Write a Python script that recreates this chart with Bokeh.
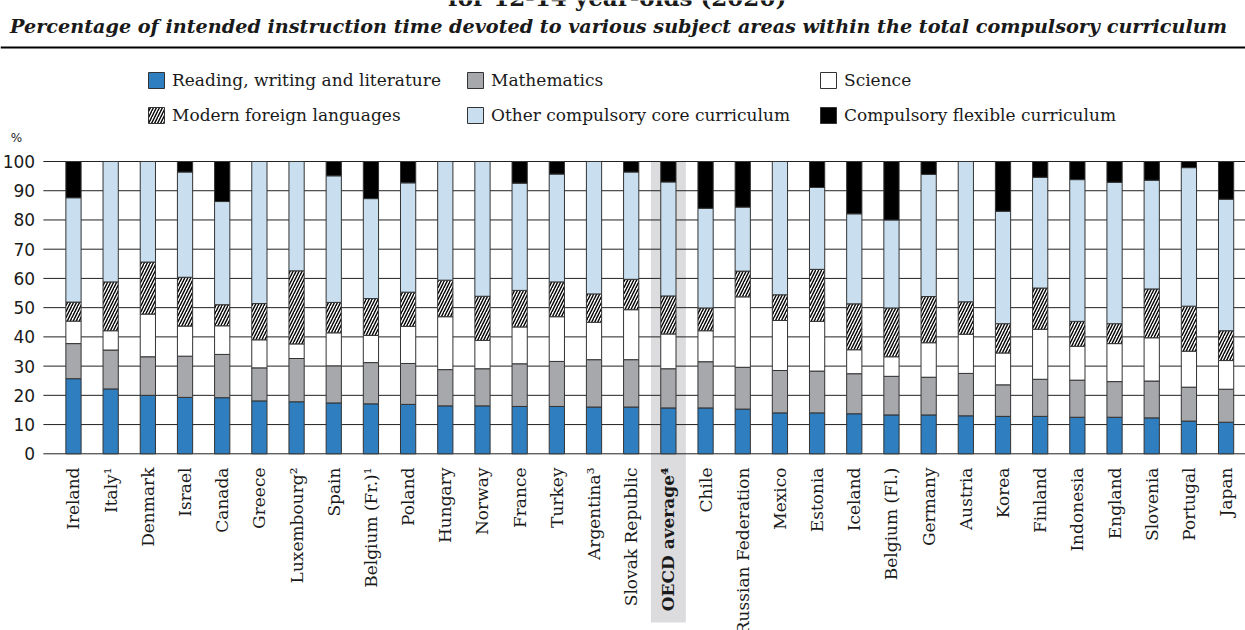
import numpy as np
from bokeh.plotting import figure
from bokeh.models import ColumnDataSource, Range1d, Legend, LegendItem, Span
from bokeh.core.properties import value
from bokeh.embed import file_html
from bokeh.resources import INLINE

# ---------------- data ----------------
countries = ["Ireland", "Italy\u00b9", "Denmark", "Israel", "Canada", "Greece",
             "Luxembourg\u00b2", "Spain", "Belgium (Fr.)\u00b9", "Poland", "Hungary",
             "Norway", "France", "Turkey", "Argentina\u00b3", "Slovak Republic",
             "OECD average\u2074", "Chile", "Russian Federation", "Mexico", "Estonia",
             "Iceland", "Belgium (Fl.)", "Germany", "Austria", "Korea", "Finland",
             "Indonesia", "England", "Slovenia", "Portugal", "Japan"]

reading = [25.7, 22.2, 20.0, 19.3, 19.2, 18.1, 17.8, 17.4, 17.1, 16.9, 16.4, 16.4,
           16.2, 16.2, 16.0, 16.0, 15.7, 15.7, 15.3, 14.0, 14.0, 13.7, 13.3, 13.3,
           13.0, 12.8, 12.8, 12.5, 12.5, 12.3, 11.2, 10.8]
mathematics = [12.0, 13.3, 13.2, 14.1, 14.8, 11.3, 14.8, 12.7, 14.1, 14.0, 12.4, 12.7,
               14.6, 15.4, 16.2, 16.2, 13.4, 15.8, 14.3, 14.5, 14.3, 13.7, 13.2, 12.9,
               14.5, 10.8, 12.7, 12.7, 12.2, 12.6, 11.6, 11.3]
science = [7.7, 6.6, 14.6, 10.3, 9.8, 9.6, 5.0, 11.3, 9.3, 12.7, 18.1, 9.7,
           12.6, 15.3, 12.8, 17.1, 11.9, 10.6, 24.1, 17.1, 17.0, 8.2, 6.7, 11.8,
           13.4, 10.9, 17.1, 11.6, 13.0, 14.8, 12.3, 9.8]
languages = [6.5, 16.7, 17.8, 16.7, 7.2, 12.4, 25.0, 10.4, 12.6, 11.7, 12.5, 15.1,
             12.5, 11.9, 9.7, 10.4, 13.0, 7.8, 8.8, 8.8, 17.8, 15.7, 16.7, 15.8,
             11.1, 10.0, 14.1, 8.5, 6.8, 16.7, 15.4, 10.2]
other_core = [35.7, 41.2, 34.4, 36.0, 35.3, 48.6, 37.4, 43.3, 34.2, 37.4, 40.6, 46.1,
              36.7, 36.9, 45.3, 36.7, 39.0, 34.1, 21.9, 45.6, 28.0, 30.8, 30.1, 41.8,
              48.0, 38.5, 37.9, 48.5, 48.4, 37.2, 47.4, 45.0]
flexible = [12.4, 0.0, 0.0, 3.6, 13.7, 0.0, 0.0, 4.9, 12.7, 7.3, 0.0, 0.0,
            7.4, 4.3, 0.0, 3.6, 7.0, 16.0, 15.6, 0.0, 8.9, 17.9, 20.0, 4.4,
            0.0, 17.0, 5.4, 6.2, 7.1, 6.4, 2.1, 12.9]

series_keys = ["reading", "mathematics", "science", "languages", "other_core", "flexible"]
series_names = ["Reading, writing and literature", "Mathematics", "Science",
                "Modern foreign languages", "Other compulsory core curriculum",
                "Compulsory flexible curriculum"]
series_colors = ["#2E7EC0", "#A7A8AC", "#FFFFFF", "#FFFFFF", "#C9DFEF", "#000000"]

y_ticks = list(range(0, 101, 10))
highlight = "OECD average\u2074"

title = "for 12-14 year-olds (2020)"
subtitle = ("Percentage of intended instruction time devoted to various subject areas "
            "within the total compulsory curriculum")

# ---------------- figure ----------------
xs = list(range(len(countries)))
styles = ["bold" if c == highlight else "normal" for c in countries]
src = ColumnDataSource(dict(x=xs, label=countries, style=styles, reading=reading,
                            mathematics=mathematics, science=science, languages=languages,
                            other_core=other_core, flexible=flexible))

x_range = Range1d(-1.963, 31.522)
y_range = Range1d(-60.45, 155.08)
p = figure(width=1245, height=630, x_range=x_range, y_range=y_range,
           x_axis_type=None, y_axis_type=None, toolbar_location=None,
           output_backend="svg", min_border=0, outline_line_color=None,
           background_fill_color="white", border_fill_color="white")

TXT = "#1a1a1a"

# highlight band behind OECD average
hi = countries.index(highlight)
p.vbar(x=[hi], width=0.94, top=[max(y_ticks)], bottom=[-57.7],
       fill_color="#DCDCDE", line_color=None)

# gridlines
p.segment(x0=[-0.81] * len(y_ticks), x1=[x_range.end + 1] * len(y_ticks),
          y0=y_ticks, y1=y_ticks, line_color="#222222", line_width=1)

# stacked bars
rs = p.vbar_stack(series_keys, x="x", width=0.41, source=src,
                  fill_color=series_colors, line_color="#333333", line_width=1)
rs[3].glyph.hatch_pattern = "/"
rs[3].glyph.hatch_color = "black"
rs[3].glyph.hatch_scale = 6
rs[3].glyph.hatch_weight = 1.4

# y tick labels
p.text(x=-1.03, y=y_ticks, text=[str(t) for t in y_ticks], text_align="right",
       text_baseline="middle", text_font=value("DejaVu Sans"),
       text_font_size=value("17px"), text_color=TXT)
p.text(x=[-1.69], y=[107.9], text=["%"], text_align="left", text_baseline="middle",
       text_font=value("DejaVu Sans"), text_font_size=value("12px"), text_color=TXT)

# category labels
p.text(x="x", y=-4.69, text="label", source=src, angle=np.pi / 2, text_align="right",
       text_baseline="middle", text_font=value("DejaVu Serif"),
       text_font_size=value("17px"), text_font_style="style", text_color=TXT)

# title (cut by the top edge, as in the original), subtitle and rule
p.text(x=[14.62], y=[156.0], text=[title], text_align="center",
       text_baseline="middle", text_font=value("DejaVu Serif"),
       text_font_size=value("23px"), text_font_style="bold", text_color=TXT)
p.text(x=[14.66], y=[146.3], text=[subtitle], text_align="center",
       text_baseline="middle", text_font=value("DejaVu Serif"),
       text_font_size=value("19.2px"), text_font_style="bold italic", text_color=TXT)
p.add_layout(Span(location=139.0, dimension="width", line_color="black", line_width=2))

# legends (three columns)
cols = [(0, 3, 146), (1, 4, 465), (2, 5, 818)]
for a, b, vx in cols:
    lg = Legend(items=[LegendItem(label=series_names[a], renderers=[rs[a]]),
                       LegendItem(label=series_names[b], renderers=[rs[b]])],
                location=(vx, 505), orientation="vertical", padding=0, margin=0,
                spacing=15, glyph_width=20, glyph_height=20, label_height=20,
                label_standoff=6, label_text_font="DejaVu Serif",
                label_text_font_size="17px", label_text_color=TXT,
                border_line_color=None, background_fill_alpha=0)
    p.add_layout(lg)

open("out.html", "w").write(file_html(p, INLINE))
